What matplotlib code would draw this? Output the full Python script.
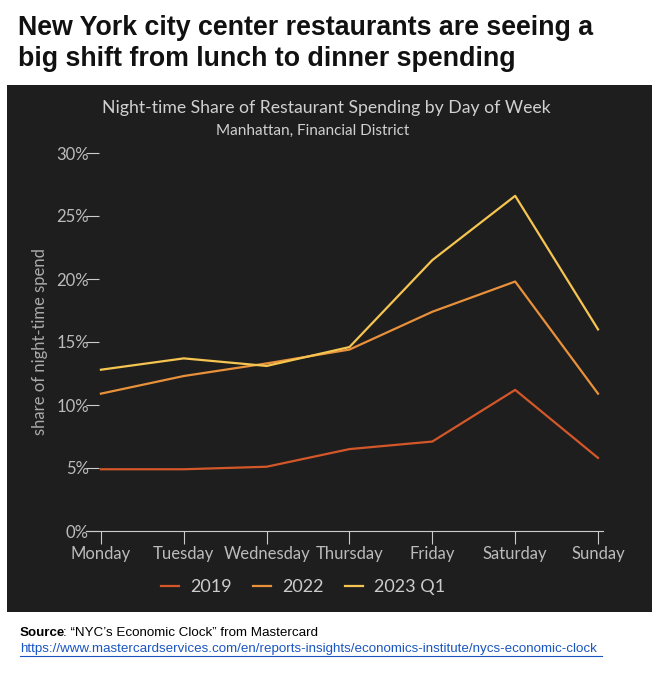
import matplotlib
matplotlib.use("Agg")
import matplotlib.pyplot as plt
from matplotlib.patches import Rectangle

days = ["Monday", "Tuesday", "Wednesday", "Thursday", "Friday", "Saturday", "Sunday"]
s2019 = [4.9, 4.9, 5.1, 6.5, 7.1, 11.2, 5.8]
s2022 = [10.9, 12.3, 13.3, 14.4, 17.4, 19.8, 10.9]
s2023 = [12.8, 13.7, 13.1, 14.6, 21.5, 26.6, 16.0]
series = [("2019", s2019, "#d4572a"), ("2022", s2022, "#e8913a"), ("2023 Q1", s2023, "#f5c451")]
yticks = [0, 5, 10, 15, 20, 25, 30]

W, H = 658, 680
fig = plt.figure(figsize=(W/100, H/100), dpi=100)
fig.patch.set_facecolor("white")
fig.patches.append(Rectangle((7/W, 1-612/H), 645/W, 527/H, transform=fig.transFigure,
                             facecolor="#1e1e1e", edgecolor="none", zorder=-5))
fig.text(18/W, 1-28/H, "New York city center restaurants are seeing a", fontsize=19.3,
         fontweight="bold", family="Liberation Sans", va="center", color="#111")
fig.text(18/W, 1-59/H, "big shift from lunch to dinner spending", fontsize=19.3,
         fontweight="bold", family="Liberation Sans", va="center", color="#111")
fig.text(326/W, 1-108/H, "Night-time Share of Restaurant Spending by Day of Week",
         ha="center", va="center", color="#d0d0d0", fontsize=12.7, family="Lato")
fig.text(313/W, 1-131/H, "Manhattan, Financial District", ha="center", va="center",
         color="#d0d0d0", fontsize=11, family="Lato")
fig.text(20/W, 1-633/H, "Source", fontweight="bold", fontsize=9.6, family="Liberation Sans", va="center")
fig.text(63/W, 1-633/H, ": \u201cNYC\u2019s Economic Clock\u201d from Mastercard", fontsize=9.6,
         family="Liberation Sans", va="center")
fig.text(20/W, 1-649/H, "https://www.mastercardservices.com/en/reports-insights/economics-institute/nycs-economic-clock",
         fontsize=9.6, family="Liberation Sans", va="center", color="#1a55c0")
fig.add_artist(plt.Line2D([20/W, 602/W], [1-656/H, 1-656/H], color="#1a55c0", lw=0.8))

ax = fig.add_axes([86/W, 1-531/H, 517/W, 378/H])
ax.set_zorder(2)
ax.set_facecolor("none")
x = list(range(len(days)))
for name, vals, c in series:
    ax.plot(x, vals, color=c, lw=1.6, label=name)
ax.set_xlim(-0.18, 6.06)
ax.set_ylim(0, 30)
ax.set_xticks(x)
ax.set_xticklabels(days)
ax.set_yticks(yticks)
ax.set_yticklabels([f"{v}%" for v in yticks])
for s in ["top", "right", "left"]:
    ax.spines[s].set_visible(False)
ax.spines["bottom"].set_color("#cccccc")
ax.tick_params(axis="x", colors="#cccccc", length=9, direction="out", labelsize=12, pad=2)
ax.tick_params(axis="y", colors="#cccccc", length=9, direction="in", labelsize=12, pad=-2)
for lab in ax.get_xticklabels() + ax.get_yticklabels():
    lab.set_family("Lato")
    lab.set_color("#bbbbbb")
ax.set_ylabel("share of night-time spend", color="#aaaaaa", fontsize=12, family="Lato", labelpad=6)
leg = ax.legend(loc="upper center", bbox_to_anchor=(0.42, -0.085), ncol=3, frameon=False,
                handlelength=1.0, columnspacing=1.2, handletextpad=0.6, fontsize=13)
for t in leg.get_texts():
    t.set_color("#cccccc")
    t.set_family("Lato")
fig.savefig("out.png", dpi=100)
